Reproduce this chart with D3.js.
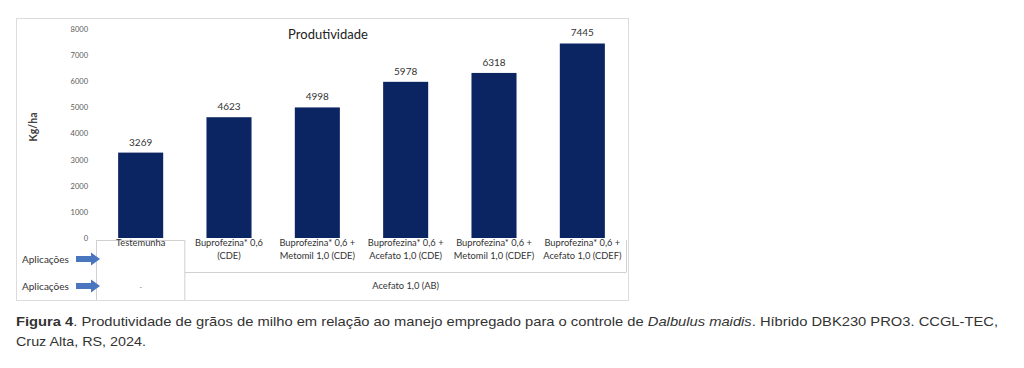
<!DOCTYPE html>
<html>
<head>
<meta charset="utf-8">
<script src="https://cdn.jsdelivr.net/npm/d3@7"></script>
<style>
  body { margin: 0; background: #fff; }
  .tick text { font-family: Lato, "Open Sans", sans-serif; fill: #595959; }
  .cap { font-family: "Liberation Sans", Arial, sans-serif; fill: #333; }
</style>
</head>
<body>
<div id="chart"></div>
<script>
var categories = ["Testemunha", "Bup", "BupMet", "BupAce", "BupMetF", "BupAceF"];
var values = [3269, 4623, 4998, 5978, 6318, 7445];
var row1Labels = [
  ["Testemunha"],
  ["Buprofezina* 0,6", "(CDE)"],
  ["Buprofezina* 0,6 +", "Metomil 1,0 (CDE)"],
  ["Buprofezina* 0,6 +", "Acefato 1,0 (CDE)"],
  ["Buprofezina* 0,6 +", "Metomil 1,0 (CDEF)"],
  ["Buprofezina* 0,6 +", "Acefato 1,0 (CDEF)"]
];
var row2Labels = ["-", "Acefato 1,0 (AB)"];
var yTicks = [0, 1000, 2000, 3000, 4000, 5000, 6000, 7000, 8000];

var width = 1024, height = 368;

var svg = d3.select("#chart").append("svg")
    .attr("width", width)
    .attr("height", height);

// chart frame
svg.append("rect")
  .attr("x", 16.5).attr("y", 18.5)
  .attr("width", 612).attr("height", 282)
  .style("fill", "#fff")
  .style("stroke", "#dcdcdc");

var x = d3.scaleBand()
  .domain(categories)
  .range([96.5, 626.5])
  .paddingInner(0.49)
  .paddingOuter(0.245);

var y = d3.scaleLinear()
  .domain([0, 8000])
  .range([238, 29]);

var yAxis = d3.axisLeft(y).tickValues(yTicks).tickFormat(d3.format("d")).tickSize(0).tickPadding(0);

svg.append("g")
  .attr("class", "y axis")
  .attr("transform", "translate(88,0)")
  .call(yAxis)
  .call(function (g) { g.select(".domain").remove(); })
  .selectAll("text")
  .style("font-size", "7.5px");

svg.append("text")
  .attr("transform", "translate(37," + y(4250) + ") rotate(-90)")
  .style("text-anchor", "middle")
  .style("font-family", "Lato, sans-serif")
  .style("font-size", "10.5px")
  .style("font-weight", "bold")
  .style("fill", "#404040")
  .text("Kg/ha");

svg.append("text")
  .attr("x", 328).attr("y", 39)
  .style("text-anchor", "middle")
  .style("font-family", "Lato, sans-serif")
  .style("font-size", "13px")
  .style("fill", "#222")
  .text("Produtividade");

svg.selectAll(".bar")
  .data(values)
  .enter().append("rect")
  .attr("class", "bar")
  .attr("x", function (d, i) { return x(categories[i]); })
  .attr("y", function (d) { return y(d); })
  .attr("width", x.bandwidth())
  .attr("height", function (d) { return y(0) - y(d); })
  .style("fill", "#0b2462");

svg.selectAll(".vlabel")
  .data(values)
  .enter().append("text")
  .attr("class", "vlabel")
  .attr("x", function (d, i) { return x(categories[i]) + x.bandwidth() / 2; })
  .attr("y", function (d) { return y(d) - 7; })
  .style("text-anchor", "middle")
  .style("font-family", "Lato, sans-serif")
  .style("font-size", "10px")
  .style("fill", "#333")
  .text(function (d) { return d; });

// table under the bars
var step = x.step();
var colLeft = function (i) { return x(categories[i]) - x.paddingInner() * step / 2; };
var tableRight = 626.5;
var grid = svg.append("g").style("stroke", "#d0d0d0").style("fill", "none");
grid.append("line").attr("x1", colLeft(0)).attr("x2", colLeft(0)).attr("y1", 240).attr("y2", 300);
grid.append("line").attr("x1", colLeft(0)).attr("x2", colLeft(1)).attr("y1", 240.5).attr("y2", 240.5);
grid.append("line").attr("x1", colLeft(1)).attr("x2", colLeft(1)).attr("y1", 240).attr("y2", 300);
grid.append("line").attr("x1", colLeft(1)).attr("x2", tableRight).attr("y1", 272.5).attr("y2", 272.5);
grid.append("line").attr("x1", tableRight).attr("x2", tableRight).attr("y1", 240).attr("y2", 272);

var cell = svg.selectAll(".cell")
  .data(row1Labels)
  .enter().append("text")
  .attr("class", "cell")
  .attr("x", function (d, i) { return x(categories[i]) + x.bandwidth() / 2; })
  .attr("y", 246)
  .style("text-anchor", "middle")
  .style("font-family", "Lato, sans-serif")
  .style("font-size", "9.3px")
  .style("fill", "#333");

cell.selectAll("tspan")
  .data(function (d) { return d; })
  .enter().append("tspan")
  .attr("x", function () { return d3.select(this.parentNode).attr("x"); })
  .attr("dy", function (d, i) { return i === 0 ? 0 : 13; })
  .text(function (d) { return d; });

svg.append("text")
  .attr("x", x(categories[0]) + x.bandwidth() / 2).attr("y", 290)
  .style("text-anchor", "middle")
  .style("font-family", "Lato, sans-serif")
  .style("font-size", "8px")
  .style("fill", "#888")
  .text(row2Labels[0]);

svg.append("text")
  .attr("x", (colLeft(1) + tableRight) / 2).attr("y", 289)
  .style("text-anchor", "middle")
  .style("font-family", "Lato, sans-serif")
  .style("font-size", "9.3px")
  .style("fill", "#333")
  .text(row2Labels[1]);

// row headers with arrows
[259, 286].forEach(function (cy) {
  svg.append("text")
    .attr("x", 22).attr("y", cy + 3.5)
    .style("font-family", "Lato, sans-serif")
    .style("font-size", "10px")
    .style("fill", "#333")
    .text("Aplicações");
  svg.append("path")
    .attr("d", "M76," + (cy - 3) + "H91V" + (cy - 6.5) + "L100," + cy + "L91," + (cy + 6.5) + "V" + (cy + 3) + "H76Z")
    .style("fill", "#4a76c0");
});

// caption
var cap = svg.append("text").attr("class", "cap")
  .attr("x", 16).attr("y", 326)
  .attr("textLength", 982)
  .attr("lengthAdjust", "spacingAndGlyphs")
  .style("font-size", "13px");
cap.append("tspan").style("font-weight", "bold").text("Figura 4");
cap.append("tspan").text(". Produtividade de grãos de milho em relação ao manejo empregado para o controle de ");
cap.append("tspan").style("font-style", "italic").text("Dalbulus maidis");
cap.append("tspan").text(". Híbrido DBK230 PRO3. CCGL-TEC,");

svg.append("text").attr("class", "cap")
  .attr("x", 16).attr("y", 346)
  .attr("textLength", 130)
  .attr("lengthAdjust", "spacingAndGlyphs")
  .style("font-size", "13px")
  .text("Cruz Alta, RS, 2024.");
</script>
</body>
</html>
